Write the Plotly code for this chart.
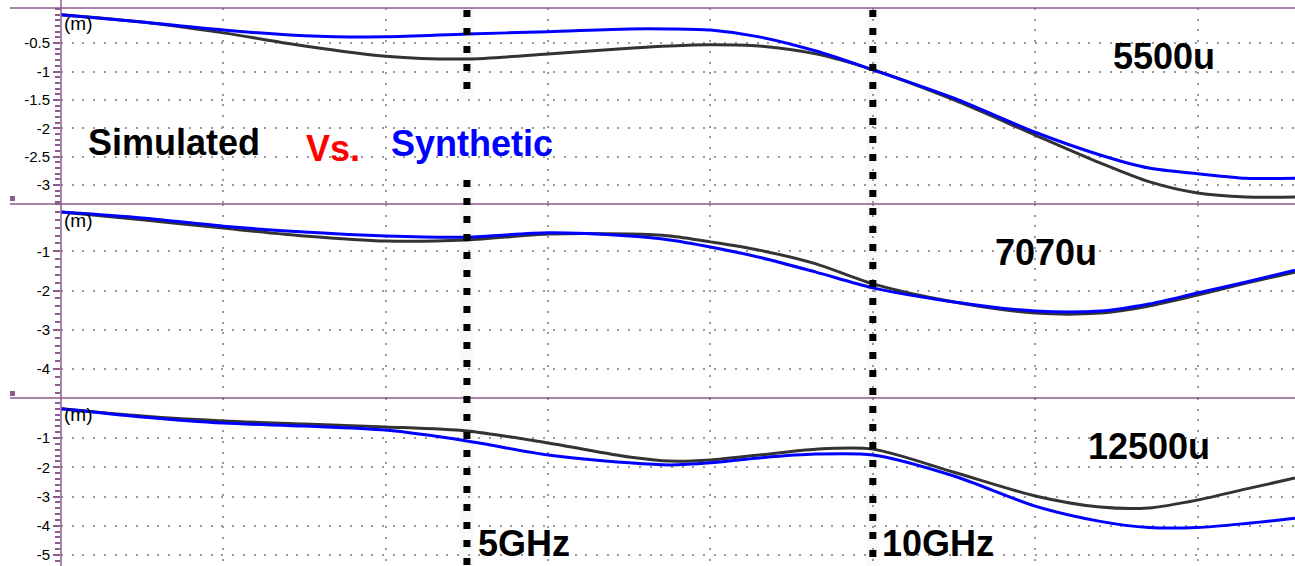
import plotly.graph_objects as go

# ---------------- data ----------------
freq_ghz = [0, 1, 2, 3, 4, 5, 6, 7, 7.5, 8, 8.6, 9.3, 10, 11, 12, 12.8, 13.4, 14, 14.6, 15.2]

sim_5500 = [0, -0.13, -0.32, -0.55, -0.73, -0.78, -0.69, -0.59, -0.55, -0.53, -0.55, -0.69, -0.97,
            -1.50, -2.12, -2.61, -2.94, -3.14, -3.21, -3.21]
syn_5500 = [0, -0.13, -0.27, -0.37, -0.39, -0.34, -0.30, -0.25, -0.25, -0.27, -0.39, -0.64, -0.97,
            -1.47, -2.07, -2.47, -2.70, -2.80, -2.88, -2.88]

sim_7070 = [0, -0.20, -0.41, -0.61, -0.74, -0.71, -0.56, -0.56, -0.61, -0.76, -0.97, -1.32, -1.83,
            -2.29, -2.57, -2.57, -2.39, -2.11, -1.81, -1.53]
syn_7070 = [0, -0.15, -0.36, -0.51, -0.61, -0.64, -0.53, -0.61, -0.71, -0.89, -1.15, -1.53, -1.93,
            -2.29, -2.52, -2.52, -2.34, -2.06, -1.78, -1.48]

sim_12500 = [0, -0.25, -0.42, -0.52, -0.62, -0.76, -1.17, -1.65, -1.79, -1.75, -1.58, -1.38, -1.38,
             -2.17, -2.98, -3.36, -3.39, -3.12, -2.74, -2.37]
syn_12500 = [0, -0.28, -0.49, -0.59, -0.73, -1.10, -1.58, -1.85, -1.92, -1.85, -1.68, -1.55, -1.58,
             -2.30, -3.33, -3.85, -4.06, -4.06, -3.92, -3.74]

panel_labels = ["5500u", "7070u", "12500u"]
ytick_vals = [[-0.5, -1, -1.5, -2, -2.5, -3], [-1, -2, -3, -4], [-1, -2, -3, -4, -5]]
ytick_text = [["-0.5", "-1", "-1.5", "-2", "-2.5", "-3"], ["-1", "-2", "-3", "-4"], ["-1", "-2", "-3", "-4", "-5"]]
xgrid_vals = [2, 4, 6, 8, 10, 12, 14]
marker_ghz = [5, 10]
marker_labels = ["5GHz", "10GHz"]

# ---------------- layout geometry (pixels) ----------------
W, H = 1295, 566
L = 61
PURPLE = "#8c5a8c"
FONT = "Liberation Sans, Arial, sans-serif"

def py(p):
    return 1 - p / H

def px(p):
    return (p - L) / (W - L)

panel_px = [(8, 204), (204, 398), (398, 566)]
panel_ranges = [[-3.333, 0.118], [-4.733, 0.204], [-5.376, 0.368]]
minor_dt = [0.1, 0.2, 0.2]

sim_series = [sim_5500, sim_7070, sim_12500]
syn_series = [syn_5500, syn_7070, syn_12500]

fig = go.Figure()
layout = dict(
    width=W, height=H,
    margin=dict(l=L, r=0, t=0, b=0),
    paper_bgcolor="white", plot_bgcolor="white",
    showlegend=False,
    font=dict(family=FONT, size=14, color="black"),
)

for i in range(3):
    s = "" if i == 0 else str(i + 1)
    fig.add_trace(go.Scatter(x=freq_ghz, y=sim_series[i], mode="lines",
                             line=dict(color="#333333", width=3, shape="spline", smoothing=0.8),
                             xaxis="x" + s, yaxis="y" + s, hoverinfo="skip"))
    fig.add_trace(go.Scatter(x=freq_ghz, y=syn_series[i], mode="lines",
                             line=dict(color="#0000ff", width=3, shape="spline", smoothing=0.8),
                             xaxis="x" + s, yaxis="y" + s, hoverinfo="skip"))
    top, bot = panel_px[i]
    layout["xaxis" + s] = dict(
        domain=[0, 1], anchor="y" + s, range=[0, 15.2],
        showticklabels=False, ticks="", zeroline=False, showline=False,
        tickmode="array", tickvals=xgrid_vals,
        showgrid=True, gridcolor="#9a9a9a", gridwidth=2, griddash="2px,8.7px",
    )
    layout["yaxis" + s] = dict(
        domain=[py(bot), py(top)], anchor="x" + s, range=panel_ranges[i],
        tickmode="array", tickvals=ytick_vals[i], ticktext=ytick_text[i],
        ticks="outside", ticklen=7, tickwidth=1.5, tickcolor=PURPLE,
        tickfont=dict(size=15, color="black", family=FONT),
        zeroline=False, showline=False,
        showgrid=True, gridcolor="#9a9a9a", gridwidth=2, griddash="2px,8.7px",
        minor=dict(tickmode="linear", tick0=0, dtick=minor_dt[i], ticks="outside",
                   ticklen=5, tickwidth=1.5, tickcolor=PURPLE, showgrid=False),
    )

fig.update_layout(**layout)

shapes = []
# panel divider lines
for top, bot in panel_px:
    shapes.append(dict(type="line", xref="paper", yref="paper", x0=px(10), x1=1, y0=py(top), y1=py(top),
                       line=dict(color=PURPLE, width=1.5)))
# left axis line
shapes.append(dict(type="line", xref="paper", yref="paper", x0=0, x1=0, y0=0, y1=1,
                   line=dict(color=PURPLE, width=1.5)))
# small purple squares
for p in [199, 394]:
    shapes.append(dict(type="rect", xref="paper", yref="paper", x0=px(10), x1=px(15), y0=py(p + 2), y1=py(p - 3),
                       fillcolor=PURPLE, line=dict(width=0)))
# frequency markers
segs = {5: [(8, 100), (178, 566)], 10: [(8, 566)]}
for g in marker_ghz:
    for a, b in segs[g]:
        shapes.append(dict(type="line", xref="x", yref="paper", x0=g, x1=g, y0=py(a), y1=py(b),
                           line=dict(color="rgba(0,0,0,0.025)", width=14)))
        shapes.append(dict(type="line", xref="x", yref="paper", x0=g, x1=g, y0=py(a + 2), y1=py(b),
                           line=dict(color="black", width=7, dash="7px,11px")))
fig.update_layout(shapes=shapes)

ann = []
def txt(t, x, y, color="black", size=36):
    ann.append(dict(text="<b>" + t + "</b>", xref="paper", yref="paper", x=px(x), y=py(y),
                    xanchor="left", yanchor="middle", showarrow=False,
                    font=dict(family=FONT, size=size, color=color)))

txt("Simulated", 86, 142)
txt("Vs.", 304, 148, color="#ff0000")
txt("Synthetic", 389, 143, color="#0000ff")
txt(panel_labels[0], 1111, 56)
txt(panel_labels[1], 993, 252)
txt(panel_labels[2], 1086, 446)
txt(marker_labels[0], 476, 543)
txt(marker_labels[1], 880, 543)
for top, bot in panel_px:
    ann.append(dict(text="(m)", xref="paper", yref="paper", x=px(62), y=py(top + 16),
                    xanchor="left", yanchor="middle", showarrow=False,
                    font=dict(family=FONT, size=19, color="black")))
fig.update_layout(annotations=ann)

fig.write_html("out.html")
